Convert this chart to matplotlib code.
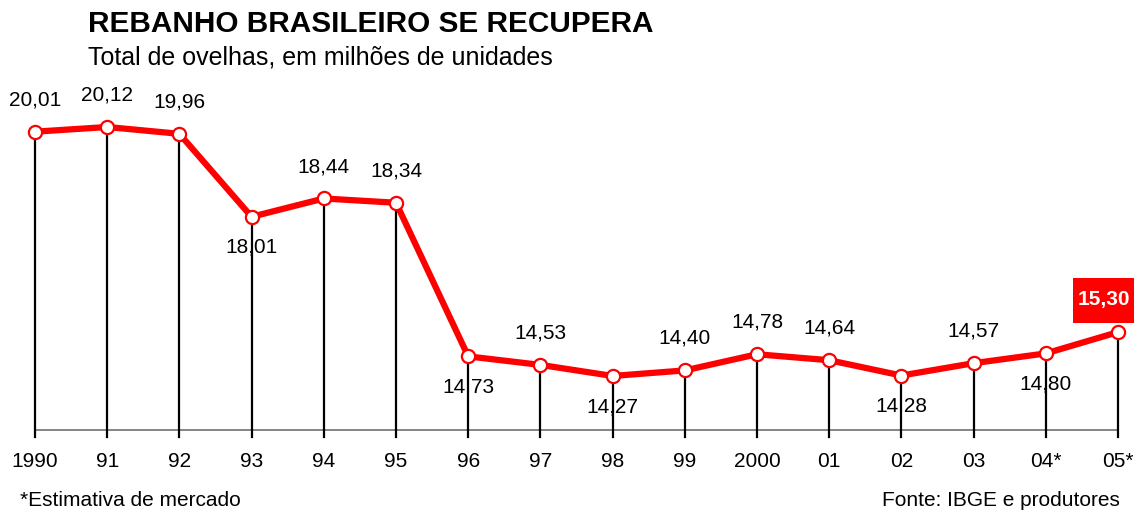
import matplotlib
matplotlib.use("Agg")
import matplotlib.pyplot as plt
from matplotlib.patches import Rectangle
from matplotlib.transforms import ScaledTranslation

years = ["1990", "91", "92", "93", "94", "95", "96", "97", "98", "99", "2000", "01", "02", "03", "04*", "05*"]
values = [20.01, 20.12, 19.96, 18.01, 18.44, 18.34, 14.73, 14.53, 14.27, 14.40, 14.78, 14.64, 14.28, 14.57, 14.80, 15.30]
labels = ["20,01", "20,12", "19,96", "18,01", "18,44", "18,34", "14,73", "14,53", "14,27", "14,40", "14,78", "14,64", "14,28", "14,57", "14,80", "15,30"]
label_pos = ["up", "up", "up", "down", "up", "up", "down", "up", "down", "up", "up", "up", "down", "up", "down", "box"]

plt.rcParams['font.family'] = ['Liberation Sans', 'DejaVu Sans']

W, H = 1141, 515
fig = plt.figure(figsize=(W / 100, H / 100), dpi=100)
x0, x1 = 35, 1118
yb, yt = 430, 127
ax = fig.add_axes([x0 / W, 1 - yb / H, (x1 - x0) / W, (yb - yt) / H])
ax.set_xlim(0, len(values) - 1)
ax.set_ylim(13, 20.12)
ax.axis("off")

xs = list(range(len(values)))
# baseline
ax.plot([0, len(values) - 1], [13, 13], color="#707070", lw=1.2, clip_on=False, zorder=1)
# vertical stems
for x, v in zip(xs, values):
    ax.plot([x, x], [v, 12.83], color="black", lw=1.6, clip_on=False, zorder=2)
# line
ax.plot(xs, values, color="#ff0000", lw=4.5, zorder=3, clip_on=False, solid_joinstyle="round")
ax.plot(xs, values, linestyle="none", marker="o", ms=9.5, mfc="white", mec="#ff0000", mew=1.6,
        zorder=4, clip_on=False)

for x, v, lab, pos in zip(xs, values, labels, label_pos):
    if pos == "up":
        ax.annotate(lab, (x, v), xytext=(0, 23), textcoords="offset points", ha="center", va="center",
                    fontsize=15, color="black")
    elif pos == "down":
        ax.annotate(lab, (x, v), xytext=(0, -22), textcoords="offset points", ha="center", va="center",
                    fontsize=15, color="black")
    else:
        t = fig.dpi_scale_trans + ScaledTranslation(x, v, ax.transData)
        ax.add_patch(Rectangle((-0.45, 0.09), 0.61, 0.45, transform=t, facecolor="#ff0000",
                               edgecolor="none", clip_on=False, zorder=5))
        ax.text(-0.145, 0.325, lab, transform=t, ha="center", va="center", fontsize=15,
                color="white", fontweight="bold", zorder=6, clip_on=False)

for x, t in zip(xs, years):
    ax.annotate(t, (x, 13), xytext=(0, -23), textcoords="offset points", ha="center", va="center",
                fontsize=15, color="black", annotation_clip=False)

fig.text(88 / W, 1 - 24 / H, "REBANHO BRASILEIRO SE RECUPERA", fontsize=21.4, fontweight="bold",
         ha="left", va="center")
fig.text(88 / W, 1 - 57 / H, "Total de ovelhas, em milhões de unidades", fontsize=18, ha="left", va="center")
fig.text(20 / W, 1 - 500 / H, "*Estimativa de mercado", fontsize=15, ha="left", va="center")
fig.text(1120 / W, 1 - 500 / H, "Fonte: IBGE e produtores", fontsize=15, ha="right", va="center")

fig.savefig("out.png", dpi=100, facecolor="white")
